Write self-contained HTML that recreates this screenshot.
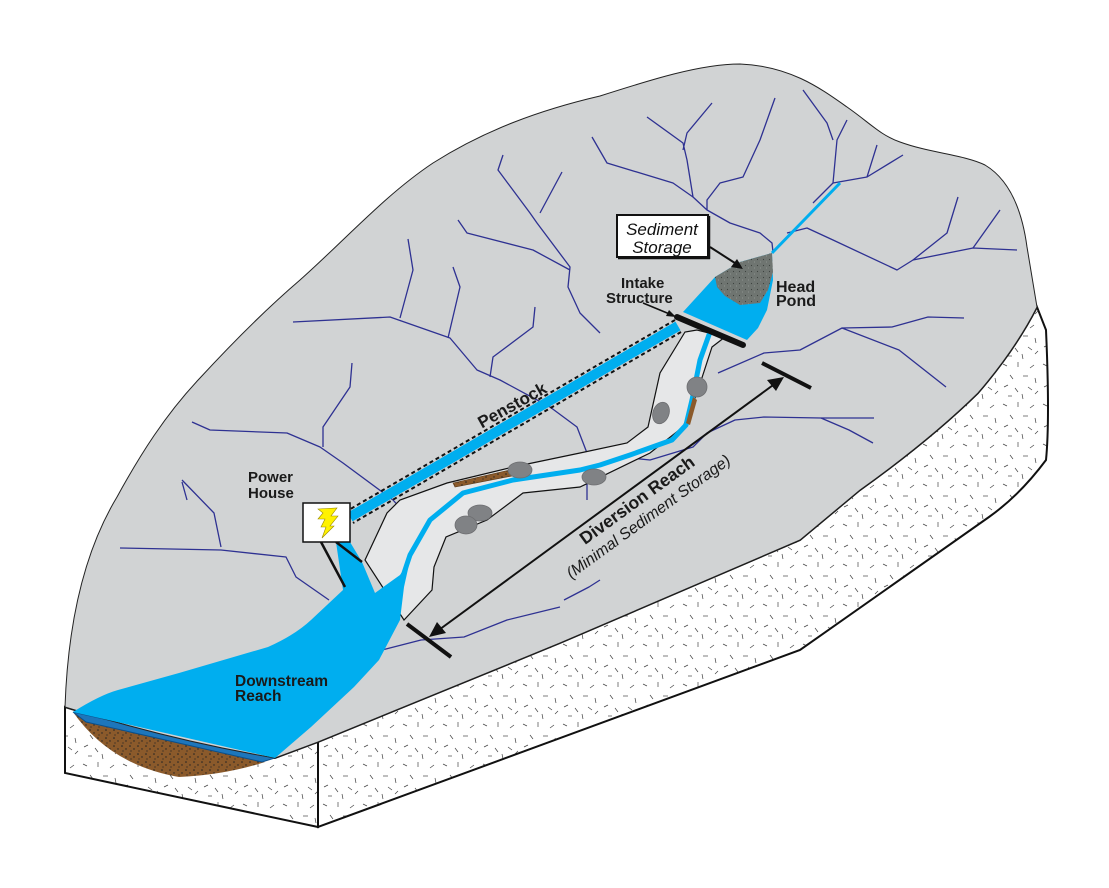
<!DOCTYPE html>
<html><head><meta charset="utf-8"><style>
html,body{margin:0;padding:0;background:#fff;}
svg{display:block;}
text{font-family:"Liberation Sans",Arial,sans-serif;}
</style></head><body>
<svg width="1109" height="888" viewBox="0 0 1109 888" xmlns="http://www.w3.org/2000/svg">
<defs>
<pattern id="sp" width="40" height="40" patternUnits="userSpaceOnUse">
<g stroke="#444" stroke-width="0.7">
<line x1="3" y1="4" x2="7" y2="6"/><line x1="18" y1="2" x2="18" y2="7"/><line x1="30" y1="8" x2="34" y2="5"/>
<line x1="10" y1="15" x2="13" y2="19"/><line x1="23" y1="16" x2="28" y2="16"/><line x1="35" y1="18" x2="36" y2="23"/>
<line x1="4" y1="27" x2="8" y2="25"/><line x1="15" y1="28" x2="18" y2="32"/><line x1="28" y1="27" x2="32" y2="30"/>
<line x1="8" y1="36" x2="12" y2="36"/><line x1="22" y1="34" x2="23" y2="39"/><line x1="35" y1="34" x2="38" y2="31"/>
</g></pattern>
<pattern id="dots" width="8" height="8" patternUnits="userSpaceOnUse">
<rect width="8" height="8" fill="#8b5a2b"/><circle cx="2" cy="2" r="0.8" fill="#222"/><circle cx="6" cy="5" r="0.7" fill="#222"/><circle cx="3" cy="7" r="0.6" fill="#222"/></pattern>
<pattern id="gdots" width="6" height="6" patternUnits="userSpaceOnUse">
<rect width="6" height="6" fill="#6f7571"/><circle cx="1.5" cy="1.5" r="0.6" fill="#3d423f"/><circle cx="4.5" cy="4" r="0.5" fill="#9aa09c"/></pattern>
</defs>

<path d="M318,742 L560,643 L800,540 L860,490 Q930,440 978,393 Q1015,350 1037,307 L1046,330 Q1050,420 1046,460 Q1020,495 989,517 L800,650 L318,827 Z" fill="url(#sp)" stroke="#111" stroke-width="2"/>
<path d="M65,707 Q170,740 275,758 L318,742 L318,827 L65,773 Z" fill="url(#sp)" stroke="#111" stroke-width="2"/>
<path d="M73,712 Q110,765 179,777 Q225,775 265,762 Z" fill="url(#dots)"/>
<path d="M73,712 L275,758 L262,762 L86,722 Z" fill="#1d76bb" stroke="#0b4f8a" stroke-width="1"/>

<path d="M65,707 C68,620 85,550 117,497 C140,455 165,415 200,378 C235,340 265,310 300,280 C345,240 385,195 433,163 C485,130 540,110 600,96 C650,80 700,64 740,64 C790,66 820,88 847,107 C870,123 880,135 900,142 C930,153 965,155 985,165 C1010,180 1022,210 1027,247 L1037,307 Q1015,350 978,393 Q930,440 860,490 L800,540 L560,643 L318,742 L275,758 Q170,740 65,707 Z" fill="#d1d3d4" stroke="#222" stroke-width="1"/>

<g fill="none" stroke="#2e3192" stroke-width="1.3" stroke-linejoin="round">
<polyline points="293,322 390,317 450,338 477,370 500,380 550,407 577,427 587,453 587,500"/>
<polyline points="408,239 413,270 400,318"/>
<polyline points="453,267 460,287 448,338"/>
<polyline points="535,307 533,327 493,357 490,377"/>
<polyline points="192,422 210,430 287,433 320,447 343,463 393,500 420,530"/>
<polyline points="352,363 350,387 323,427 323,447"/>
<polyline points="182,482 187,500"/>
<polyline points="503,155 498,170 530,213 537,223 570,267 568,287 580,313 600,333"/>
<polyline points="562,172 540,213"/>
<polyline points="458,220 467,233 533,250 570,270"/>
<polyline points="592,137 607,163 673,183 693,197 707,210 730,223 760,233 772,243 773,252"/>
<polyline points="647,117 683,143 687,160 693,197"/>
<polyline points="712,103 687,133 683,150"/>
<polyline points="775,98 760,140 743,177 720,183 707,200 707,210"/>
<polyline points="813,203 833,183 837,140 847,120"/>
<polyline points="803,90 827,123 833,140"/>
<polyline points="833,183 867,177 903,155"/>
<polyline points="867,177 877,145"/>
<polyline points="787,233 807,228 833,240 897,270 913,260 973,248 1017,250"/>
<polyline points="913,260 947,233 958,197"/>
<polyline points="973,248 1000,210"/>
<polyline points="964,318 928,317 892,327 842,328 800,350 764,353 718,373"/>
<polyline points="842,328 899,350 946,387"/>
<polyline points="874,418 821,418 764,417 735,420 707,433 693,447 650,460 621,457"/>
<polyline points="821,418 849,430 873,443"/>
<polyline points="382,650 421,640 464,637 507,620 560,607"/>
<polyline points="120,548 221,550 286,557 296,577 329,600"/>
<polyline points="182,480 214,513 221,547"/>
<polyline points="600,580 589,587 564,600"/>
</g>

<path d="M365,560 L387,513 L400,500 L447,483 L513,467 L580,453 L627,443 L648,427 L660,373 L685,332 L697,330 L725,337 L712,347 L697,393 L683,427 L650,453 L580,487 L523,493 L487,520 L446,537 L434,567 L432,590 L404,620 Z" fill="#e6e7e8" stroke="#111" stroke-width="1.2"/>
<path d="M73,712 Q100,695 118,690 L179,673 L268,647 Q295,635 311,620 L343,590 L336,542 L350,542 L362,562 L375,593 L400,575 L410,560 L404,587 L400,620 L379,660 L354,687 L311,727 L275,758 Z" fill="#00aeef"/>
<line x1="321" y1="542" x2="345" y2="587" stroke="#111" stroke-width="2.5"/>
<line x1="336" y1="542" x2="362" y2="562" stroke="#111" stroke-width="2.5"/>
<polyline points="710,332 700,360 692,400 686,425 672,440 630,455 600,465 580,470 513,480 463,493 430,520 410,555 395,600" fill="none" stroke="#00aeef" stroke-width="5" stroke-linejoin="round"/>
<line x1="772" y1="253" x2="840" y2="183" stroke="#00aeef" stroke-width="3"/>

<path d="M453,483 L510,470 L512,476 L455,487 Z" fill="url(#dots)" stroke="#5a3a1a" stroke-width="0.6"/>
<path d="M693,397 L697,400 L690,425 L686,423 Z" fill="#8b5a2b"/>
<g fill="#808285" stroke="#6d6e71" stroke-width="0.8">
<ellipse cx="520" cy="470" rx="12" ry="8"/><ellipse cx="594" cy="477" rx="12" ry="8"/>
<ellipse cx="480" cy="513" rx="12" ry="8"/><ellipse cx="466" cy="525" rx="11" ry="9"/>
<ellipse cx="661" cy="413" rx="8" ry="11" transform="rotate(20 661 413)"/>
<ellipse cx="697" cy="387" rx="10" ry="10"/>
</g>

<path d="M683,312 L715,277 L740,262 L772,253 L773,280 L767,310 L758,328 L747,340 Z" fill="#00aeef"/>
<path d="M715,277 L740,262 L772,253 L773,272 L768,290 L760,303 L740,305 L725,296 L717,287 Z" fill="url(#gdots)"/>
<line x1="678" y1="326" x2="350" y2="517" stroke="#00aeef" stroke-width="10"/>
<line x1="675" y1="320" x2="347" y2="511" stroke="#111" stroke-width="2" stroke-dasharray="4,3"/>
<line x1="681" y1="332" x2="353" y2="523" stroke="#111" stroke-width="2" stroke-dasharray="4,3"/>
<line x1="677" y1="317" x2="743" y2="345" stroke="#111" stroke-width="6" stroke-linecap="round"/>
<line x1="643" y1="303" x2="672" y2="315" stroke="#111" stroke-width="1.5"/>
<polygon points="676,317 666,316 669,310" fill="#111"/>

<rect x="303" y="503" width="47" height="39" fill="#fff" stroke="#111" stroke-width="1.5"/>
<polygon points="318,509 337,508 331,516 338,516 330,526 334,526 322,538 326,527 321,527 325,519 318,519 323,513" fill="#fff200" stroke="#9a8a00" stroke-width="0.6"/>

<line x1="432" y1="635" x2="780" y2="380" stroke="#111" stroke-width="2"/>
<polygon points="429,637 446,633 437,622" fill="#111"/>
<polygon points="784,377 767,380 776,391" fill="#111"/>
<line x1="407" y1="624" x2="451" y2="657" stroke="#111" stroke-width="4"/>
<line x1="762" y1="363" x2="811" y2="388" stroke="#111" stroke-width="4"/>

<rect x="617" y="215" width="91" height="42" fill="#fff" stroke="#111" stroke-width="2"/>
<line x1="709" y1="216" x2="709" y2="259" stroke="#111" stroke-width="2.5"/>
<line x1="618" y1="258" x2="710" y2="258" stroke="#111" stroke-width="2.5"/>
<text x="662" y="235" font-size="17" font-style="italic" text-anchor="middle" fill="#111">Sediment</text>
<text x="662" y="253" font-size="17" font-style="italic" text-anchor="middle" fill="#111">Storage</text>
<line x1="710" y1="247" x2="738" y2="265" stroke="#111" stroke-width="2"/>
<polygon points="743,269 731,267 737,259" fill="#111"/>

<g font-weight="bold" fill="#1a1a1a" font-size="15">
<text x="621" y="288">Intake</text>
<text x="606" y="303">Structure</text>
<text x="776" y="292" font-size="16">Head</text>
<text x="776" y="306" font-size="16">Pond</text>
<text x="248" y="482">Power</text>
<text x="248" y="498">House</text>
<text x="235" y="686" font-size="15.5">Downstream</text>
<text x="235" y="701" font-size="15.5">Reach</text>
<text x="512" y="411" font-size="17" text-anchor="middle" transform="rotate(-29 512 405)">Penstock</text>
<text x="637" y="506" font-size="17.5" text-anchor="middle" transform="rotate(-36 637 500)">Diversion Reach</text>
</g>
<text x="648" y="522" font-size="16" font-style="italic" text-anchor="middle" fill="#1a1a1a" transform="rotate(-36 648 516)">(Minimal Sediment Storage)</text>
</svg>
</body></html>
